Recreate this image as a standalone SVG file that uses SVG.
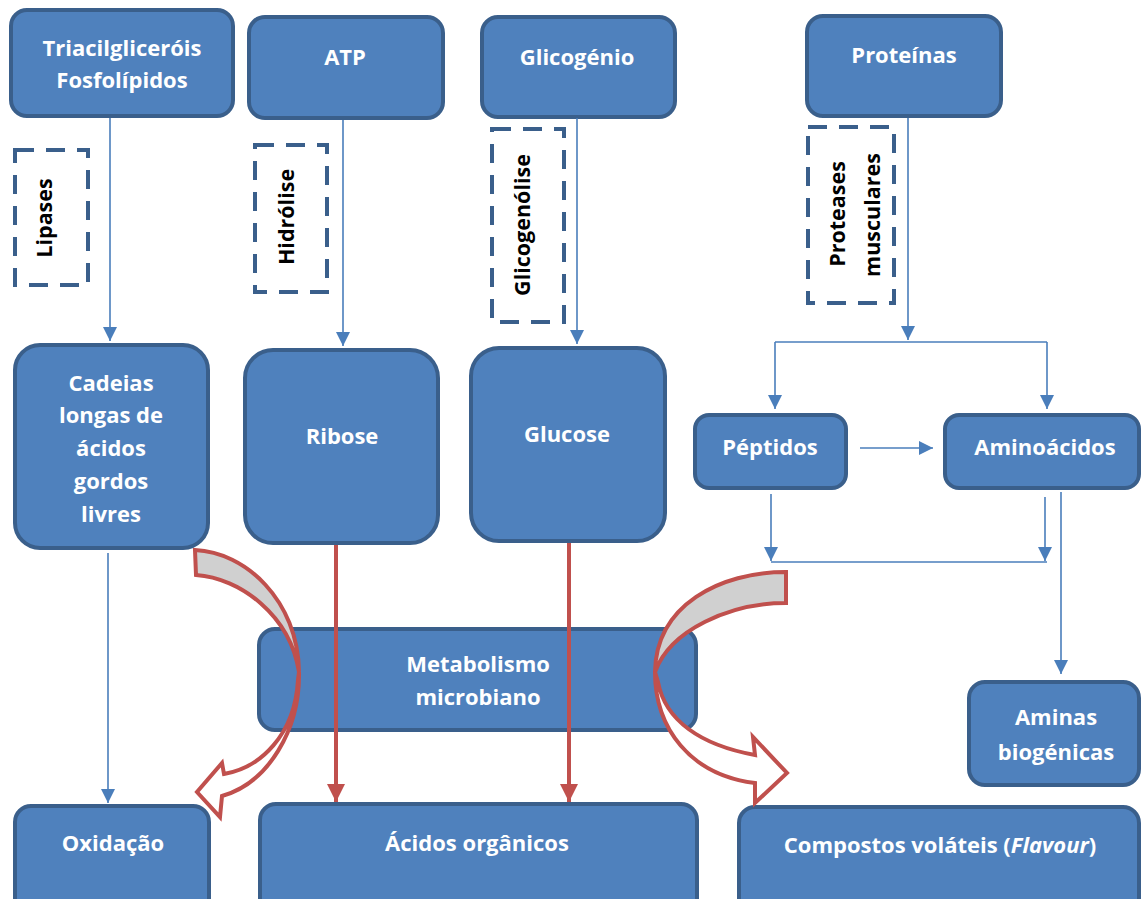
<svg xmlns="http://www.w3.org/2000/svg" width="1141" height="899" viewBox="0 0 1141 899">
<style>
.box{fill:#4F81BD;stroke:#3A5F8B;stroke-width:4}
.dash{fill:none;stroke:#3A5F8B;stroke-width:4;stroke-dasharray:19 12}
.t{font-family:"Open Sans","Liberation Sans",sans-serif;font-weight:700;font-size:22px;fill:#fff;text-anchor:middle}
.d{font-family:"Open Sans","Liberation Sans",sans-serif;font-weight:700;font-size:21.5px;fill:#000;text-anchor:middle}
.bl{fill:none;stroke:#4A7EBB;stroke-width:1.6}
.rd{fill:none;stroke:#C0504D;stroke-width:4}
.rib{stroke:#C0504D;stroke-width:4;stroke-linejoin:miter}
</style>
<defs>
<marker id="ab" markerUnits="userSpaceOnUse" markerWidth="14" markerHeight="14" refX="14" refY="7" orient="auto"><path d="M0,0 L14,7 L0,14 Z" fill="#4A7EBB"/></marker>
<marker id="ar" markerUnits="userSpaceOnUse" markerWidth="18" markerHeight="18" refX="18" refY="9" orient="auto"><path d="M0,0 L18,9 L0,18 Z" fill="#C0504D"/></marker>
</defs>
<rect width="1141" height="899" fill="#fff"/>

<g id="n-triacil"><rect class="box" x="11" y="10" width="222" height="106" rx="16"/><text class="t" x="122" y="56">Triacilgliceróis</text><text class="t" x="122" y="88">Fosfolípidos</text></g>
<g id="n-atp"><rect class="box" x="249" y="17" width="194" height="101" rx="16"/><text class="t" x="345" y="65">ATP</text></g>
<g id="n-glicogenio"><rect class="box" x="482" y="17" width="193" height="100" rx="16"/><text class="t" x="577" y="65">Glicogénio</text></g>
<g id="n-proteinas"><rect class="box" x="807" y="16" width="194" height="100" rx="16"/><text class="t" x="904" y="63">Proteínas</text></g>

<g id="d-lipases"><rect class="dash" x="15" y="150" width="73" height="135"/><text class="d" transform="translate(52,218) rotate(-90)">Lipases</text></g>
<g id="d-hidrolise"><rect class="dash" x="255" y="145" width="72" height="147"/><text class="d" transform="translate(294,217) rotate(-90)">Hidrólise</text></g>
<g id="d-glicogenolise"><rect class="dash" x="492" y="129" width="72" height="193"/><text class="d" transform="translate(530,225) rotate(-90)">Glicogenólise</text></g>
<g id="d-proteases"><rect class="dash" x="808" y="127" width="86" height="176"/><text class="d" transform="translate(845,214) rotate(-90)">Proteases</text><text class="d" transform="translate(880,215) rotate(-90)">musculares</text></g>

<g id="n-cadeias"><rect class="box" x="15" y="345" width="193" height="203" rx="25"/><text class="t" x="111" y="391">Cadeias</text><text class="t" x="111" y="423">longas de</text><text class="t" x="111" y="456">ácidos</text><text class="t" x="111" y="489">gordos</text><text class="t" x="111" y="522">livres</text></g>
<g id="n-ribose"><rect class="box" x="245" y="350" width="193" height="193" rx="28"/><text class="t" x="342" y="444">Ribose</text></g>
<g id="n-glucose"><rect class="box" x="471" y="348" width="194" height="193" rx="28"/><text class="t" x="567" y="442">Glucose</text></g>
<g id="n-peptidos"><rect class="box" x="695" y="415" width="151" height="73" rx="14"/><text class="t" x="770" y="455">Péptidos</text></g>
<g id="n-aminoacidos"><rect class="box" x="945" y="415" width="194" height="73" rx="14"/><text class="t" x="1045" y="455">Aminoácidos</text></g>
<g id="n-metabolismo"><rect class="box" x="259" y="629" width="437" height="101" rx="16"/><text class="t" x="478" y="672">Metabolismo</text><text class="t" x="478" y="705">microbiano</text></g>
<g id="n-aminas"><rect class="box" x="969" y="682" width="170" height="103" rx="16"/><text class="t" x="1056" y="725">Aminas</text><text class="t" x="1056" y="760">biogénicas</text></g>
<g id="n-oxidacao"><rect class="box" x="15" y="806" width="194" height="110" rx="16"/><text class="t" x="113" y="851">Oxidação</text></g>
<g id="n-acidos"><rect class="box" x="260" y="804" width="437" height="110" rx="16"/><text class="t" x="477" y="851">Ácidos orgânicos</text></g>
<g id="n-compostos"><rect class="box" x="739" y="807" width="400" height="110" rx="16"/><text class="t" x="940" y="853">Compostos voláteis (<tspan font-style="italic">Flavour</tspan>)</text></g>

<g id="connectors">
<path class="bl" d="M110,118 V341" marker-end="url(#ab)"/>
<path class="bl" d="M343,120 V346" marker-end="url(#ab)"/>
<path class="bl" d="M577,118 V344" marker-end="url(#ab)"/>
<path class="bl" d="M908,118 V340" marker-end="url(#ab)"/>
<path class="bl" d="M775,342 H1047"/>
<path class="bl" d="M775,342 V409" marker-end="url(#ab)"/>
<path class="bl" d="M1047,342 V409" marker-end="url(#ab)"/>
<path class="bl" d="M860,448 H933" marker-end="url(#ab)"/>
<path class="bl" d="M771,494 V561" marker-end="url(#ab)"/>
<path class="bl" d="M771,562 H1047"/>
<path class="bl" d="M1045,497 V561" marker-end="url(#ab)"/>
<path class="bl" d="M1061,492 V674" marker-end="url(#ab)"/>
<path class="bl" d="M108,553 V803" marker-end="url(#ab)"/>
<path class="rd" d="M336,545 V802" marker-end="url(#ar)"/>
<path class="rd" d="M569,543 V802" marker-end="url(#ar)"/>
<g id="ribbon-left">
<path class="rib" fill="#D0D0D0" d="M195,550 C245,552 298,600 299,672 C290,615 240,578 196,575 Z"/>
<path class="rib" fill="#fff" d="M299,672 C300,730 268,783 222,796 L220,817 L197,792 L222,763 L224,774 C260,768 295,735 298,680 Z"/>
</g>
<g id="ribbon-right">
<path class="rib" fill="#D0D0D0" d="M786,572 C720,572 656,605 655,672 C670,630 730,603 786,603 Z"/>
<path class="rib" fill="#fff" d="M655,672 C655,728 690,775 755,783 L755,803 L787,773 L753,737 L755,755 C700,745 665,720 658,682 Z"/>
</g>
</g>
</svg>
